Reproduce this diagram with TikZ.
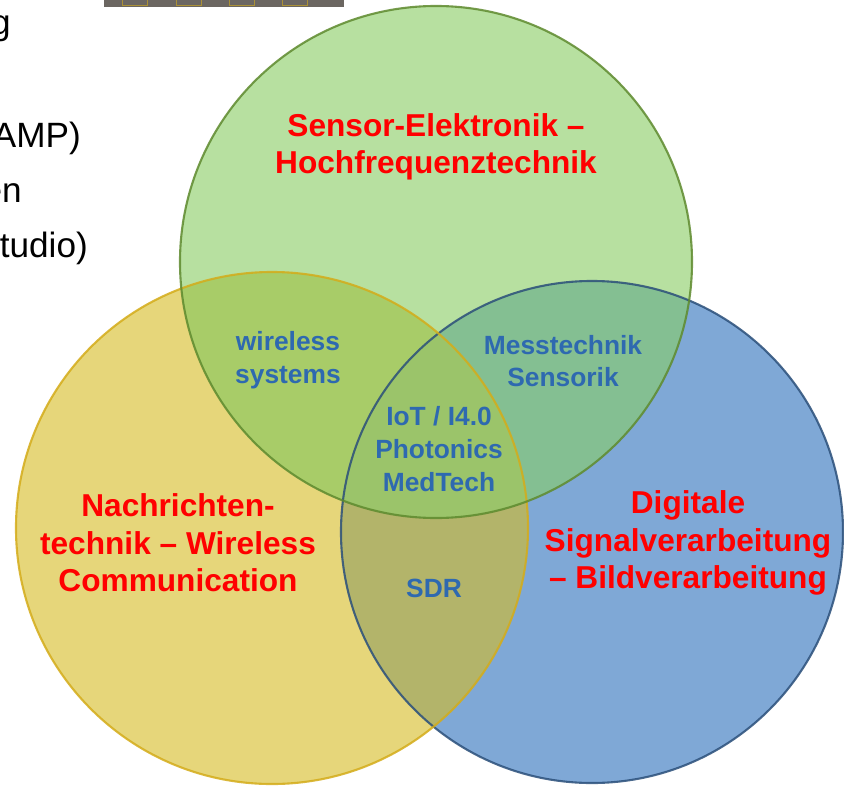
\documentclass[tikz,border=0pt]{standalone}
\usepackage{fontspec}
\setmainfont{Liberation Sans}
\usetikzlibrary{positioning}
\definecolor{gfill}{HTML}{B7E0A0}
\definecolor{yfill}{HTML}{E6D67A}
\definecolor{bfill}{HTML}{7FA8D6}
\definecolor{gyfill}{HTML}{A8CC68}
\definecolor{gbfill}{HTML}{84BF92}
\definecolor{ybfill}{HTML}{B3B46A}
\definecolor{allfill}{HTML}{9BC46A}
\definecolor{gline}{HTML}{5E8A2E}
\definecolor{yline}{HTML}{D4AC1A}
\definecolor{bline}{HTML}{2B4F7A}
\definecolor{areablue}{HTML}{2E69B0}
\definecolor{bargrey}{HTML}{6B6661}
\tikzset{
  field/.style   = {align=center, text=red, font=\fontsize{27}{32}\selectfont\bfseries},
  overlap/.style = {align=center, text=areablue, font=\fontsize{22.5}{28}\selectfont\bfseries},
  slide/.style   = {anchor=base east, inner sep=0pt, font=\fontsize{30}{36}\selectfont},
  rim/.style     = {line width=1.8pt, opacity=0.85}
}
\begin{document}
\begin{tikzpicture}[x=0.03cm, y=-0.03cm]
    \useasboundingbox (0,0) rectangle (844,787);
    % circle centres
    \coordinate (green) at (436,262);
    \coordinate (yellow) at (272,528);
    \coordinate (blue) at (592,532);
    % plain areas
    \fill[yfill] (yellow) circle[radius=7.68cm];
    \fill[bfill] (blue) circle[radius=7.53cm];
    \fill[gfill] (green) circle[radius=7.68cm];
    % overlaps
    \begin{scope}
        \clip (yellow) circle[radius=7.68cm];
        \fill[ybfill] (blue) circle[radius=7.53cm];
        \fill[gyfill] (green) circle[radius=7.68cm];
    \end{scope}
    \begin{scope}
        \clip (green) circle[radius=7.68cm];
        \fill[gbfill] (blue) circle[radius=7.53cm];
        \clip (blue) circle[radius=7.53cm];
        \fill[allfill] (yellow) circle[radius=7.68cm];
    \end{scope}
    % rims
    \draw[rim, bline] (blue) circle[radius=7.53cm];
    \draw[rim, yline] (yellow) circle[radius=7.68cm];
    \draw[rim, gline] (green) circle[radius=7.68cm];

    % labels
    \node[field] (sensor) at (436,147) {Sensor-Elektronik --\\Hochfrequenztechnik};
    \node[field] (nachricht) at (178,543) {Nachrichten-\\technik -- Wireless\\Communication};
    \node[field] (dsp) at (688,543) {Digitale\\Signalverarbeitung\\-- Bildverarbeitung};
    \node[overlap] (wireless) at (288,360) {wireless\\systems};
    \node[overlap] (mess) at (563,361) {Messtechnik\\Sensorik};
    \node[overlap] (iot) at (439,449) {IoT / I4.0\\Photonics\\MedTech};
    \node[overlap] (sdr) at (434,588) {SDR};

    % slide text cut off at the left
    \node[slide] (l1) at (11,35) {g};
    \node[slide] (l2) at (81,147) {AMP)};
    \node[slide] (l3) at (22,202) {en};
    \node[slide] (l4) at (88,257) {tudio)};

    % toolbar cut off at the top
    \fill[bargrey] (104,-2) rectangle (344,7);
    \foreach \x in {122,176,229,282}
        \draw[yline!60!bargrey, line width=0.6pt] (\x,-2) rectangle (\x+25,5);
\end{tikzpicture}
\end{document}
